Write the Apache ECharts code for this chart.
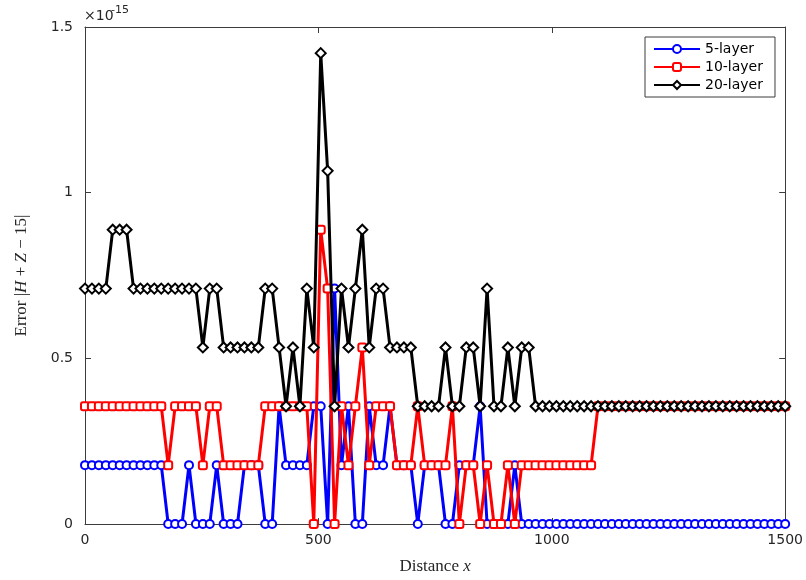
<!DOCTYPE html>
<html>
<head>
<meta charset="utf-8">
<script src="https://cdn.jsdelivr.net/npm/echarts@6/dist/echarts.min.js"></script>
<style>html,body{margin:0;padding:0;background:#fff}#c{width:806px;height:580px}</style>
</head>
<body>
<div id="c"></div>
<script>
// x positions of the samples (distance)
const distance = [
  0, 14.9, 29.7, 44.6, 59.4, 74.3, 89.1, 104.0, 118.8, 133.7,
  148.5, 163.4, 178.2, 193.1, 207.9, 222.8, 237.6, 252.5, 267.3, 282.2,
  297.0, 311.9, 326.7, 341.6, 356.4, 371.3, 386.1, 401.0, 415.8, 430.7,
  445.5, 460.4, 475.2, 490.1, 505.0, 519.8, 534.7, 549.5, 564.4, 579.2,
  594.1, 608.9, 623.8, 638.6, 653.5, 668.3, 683.2, 698.0, 712.9, 727.7,
  742.6, 757.4, 772.3, 787.1, 802.0, 816.8, 831.7, 846.5, 861.4, 876.2,
  891.1, 905.9, 920.8, 935.6, 950.5, 965.3, 980.2, 995.0, 1009.9, 1024.8,
  1039.6, 1054.5, 1069.3, 1084.2, 1099.0, 1113.9, 1128.7, 1143.6, 1158.4, 1173.3,
  1188.1, 1203.0, 1217.8, 1232.7, 1247.5, 1262.4, 1277.2, 1292.1, 1306.9, 1321.8,
  1336.6, 1351.5, 1366.3, 1381.2, 1396.0, 1410.9, 1425.7, 1440.6, 1455.4, 1470.3,
  1485.1, 1500.0
];
// errors in units of 1e-15
const err5 = [
  0.1776,0.1776,0.1776,0.1776,0.1776,0.1776,0.1776,0.1776,0.1776,0.1776,
  0.1776,0.1776,0,0,0,0.1776,0,0,0,0.1776,
  0,0,0,0.1776,0.1776,0.1776,0,0,0.3553,0.1776,
  0.1776,0.1776,0.1776,0.3553,0.3553,0,0.7105,0.1776,0.3553,0,
  0,0.3553,0.1776,0.1776,0.3553,0.1776,0.1776,0.1776,0,0.1776,
  0.1776,0.1776,0,0,0.1776,0.1776,0.1776,0.3553,0,0,
  0,0,0.1776,0,0,0,0,0,0,0,
  0,0,0,0,0,0,0,0,0,0,
  0,0,0,0,0,0,0,0,0,0,
  0,0,0,0,0,0,0,0,0,0,
  0,0
];
const err10 = [
  0.3553,0.3553,0.3553,0.3553,0.3553,0.3553,0.3553,0.3553,0.3553,0.3553,
  0.3553,0.3553,0.1776,0.3553,0.3553,0.3553,0.3553,0.1776,0.3553,0.3553,
  0.1776,0.1776,0.1776,0.1776,0.1776,0.1776,0.3553,0.3553,0.3553,0.3553,
  0.3553,0.3553,0.3553,0,0.8882,0.7105,0,0.3553,0.1776,0.3553,
  0.5329,0.1776,0.3553,0.3553,0.3553,0.1776,0.1776,0.1776,0.3553,0.1776,
  0.1776,0.1776,0.1776,0.3553,0,0.1776,0.1776,0,0.1776,0,
  0,0.1776,0,0.1776,0.1776,0.1776,0.1776,0.1776,0.1776,0.1776,
  0.1776,0.1776,0.1776,0.1776,0.3553,0.3553,0.3553,0.3553,0.3553,0.3553,
  0.3553,0.3553,0.3553,0.3553,0.3553,0.3553,0.3553,0.3553,0.3553,0.3553,
  0.3553,0.3553,0.3553,0.3553,0.3553,0.3553,0.3553,0.3553,0.3553,0.3553,
  0.3553,0.3553
];
const err20 = [
  0.7105,0.7105,0.7105,0.7105,0.8882,0.8882,0.8882,0.7105,0.7105,0.7105,
  0.7105,0.7105,0.7105,0.7105,0.7105,0.7105,0.7105,0.5329,0.7105,0.7105,
  0.5329,0.5329,0.5329,0.5329,0.5329,0.5329,0.7105,0.7105,0.5329,0.3553,
  0.5329,0.3553,0.7105,0.5329,1.4211,1.0658,0.3553,0.7105,0.5329,0.7105,
  0.8882,0.5329,0.7105,0.7105,0.5329,0.5329,0.5329,0.5329,0.3553,0.3553,
  0.3553,0.3553,0.5329,0.3553,0.3553,0.5329,0.5329,0.3553,0.7105,0.3553,
  0.3553,0.5329,0.3553,0.5329,0.5329,0.3553,0.3553,0.3553,0.3553,0.3553,
  0.3553,0.3553,0.3553,0.3553,0.3553,0.3553,0.3553,0.3553,0.3553,0.3553,
  0.3553,0.3553,0.3553,0.3553,0.3553,0.3553,0.3553,0.3553,0.3553,0.3553,
  0.3553,0.3553,0.3553,0.3553,0.3553,0.3553,0.3553,0.3553,0.3553,0.3553,
  0.3553,0.3553
];
const seriesNames = ['5-layer', '10-layer', '20-layer'];
const xTicks = [0, 500, 1000, 1500];
const yTicks = [0, 0.5, 1, 1.5];

const axisColor = '#3c3c3c';
const labelColor = '#262626';
const sans = 'DejaVu Sans';
const serif = 'Liberation Serif';

function pairs(ys) { return ys.map((y, i) => [distance[i], y]); }

const chart = echarts.init(document.getElementById('c'), null, {renderer: 'canvas'});
const tickCommon = {show: true, inside: true, length: 6, lineStyle: {color: axisColor}};
chart.setOption({
  animation: false,
  backgroundColor: '#fff',
  grid: {left: 85, right: 18, top: 27, bottom: 53, show: false},
  xAxis: [{
    type: 'value', min: xTicks[0], max: xTicks[xTicks.length - 1], interval: 500,
    axisLine: {show: true, onZero: false, lineStyle: {color: axisColor, width: 1}},
    axisTick: tickCommon,
    splitLine: {show: false},
    axisLabel: {color: labelColor, fontFamily: sans, fontSize: 14, margin: 9,
      formatter: v => String(v)},
    name: '{r|Distance }{i|x}', nameLocation: 'middle', nameGap: 34,
    nameTextStyle: {rich: {
      r: {fontFamily: serif, fontSize: 17, color: labelColor},
      i: {fontFamily: serif, fontStyle: 'italic', fontSize: 17, color: labelColor}
    }}
  }, {
    type: 'value', position: 'top', min: 0, max: 1500, interval: 500,
    axisLine: {show: true, onZero: false, lineStyle: {color: axisColor, width: 1}},
    axisTick: tickCommon, axisLabel: {show: false}, splitLine: {show: false}
  }],
  yAxis: [{
    type: 'value', min: yTicks[0], max: yTicks[yTicks.length - 1], interval: 0.5,
    axisLine: {show: true, onZero: false, lineStyle: {color: axisColor, width: 1}},
    axisTick: tickCommon,
    splitLine: {show: false},
    axisLabel: {color: labelColor, fontFamily: sans, fontSize: 14, margin: 12,
      formatter: v => String(v)},
    name: '{r|Error }{r||}{i|H}{r| + }{i|Z}{r| − 15|}', nameLocation: 'middle', nameGap: 55, nameRotate: 90,
    nameTextStyle: {rich: {
      r: {fontFamily: serif, fontSize: 17, color: labelColor},
      i: {fontFamily: serif, fontStyle: 'italic', fontSize: 17, color: labelColor}
    }}
  }, {
    type: 'value', position: 'right', min: 0, max: 1.5, interval: 0.5,
    axisLine: {show: true, onZero: false, lineStyle: {color: axisColor, width: 1}},
    axisTick: tickCommon, axisLabel: {show: false}, splitLine: {show: false}
  }],
  legend: {
    left: 645, top: 37, orient: 'vertical',
    data: seriesNames,
    itemWidth: 46, itemHeight: 10, itemGap: 4,
    padding: [5, 12, 5, 8],
    borderColor: axisColor, borderWidth: 1, backgroundColor: '#fff',
    textStyle: {fontFamily: sans, fontSize: 14, color: '#000'}
  },
  graphic: [
    {type: 'text', left: 84, top: 9, style: {text: '×10', font: '14px "DejaVu Sans"', fill: labelColor}},
    {type: 'text', left: 111, top: 5, style: {text: '-15', font: '11px "DejaVu Sans"', fill: labelColor}}
  ],
  series: [
    {name: seriesNames[0], type: 'line', data: pairs(err5), symbol: 'emptyCircle', symbolSize: 8,
      lineStyle: {color: '#0000ff', width: 3}, itemStyle: {color: '#0000ff', borderWidth: 2.2}, z: 2},
    {name: seriesNames[1], type: 'line', data: pairs(err10), symbol: 'emptyRoundRect', symbolSize: 8,
      lineStyle: {color: '#ff0000', width: 3}, itemStyle: {color: '#ff0000', borderWidth: 2.2}, z: 3},
    {name: seriesNames[2], type: 'line', data: pairs(err20), symbol: 'emptyDiamond', symbolSize: 10,
      lineStyle: {color: '#000000', width: 3}, itemStyle: {color: '#000000', borderWidth: 2.2}, z: 4}
  ]
});
</script>
</body>
</html>
